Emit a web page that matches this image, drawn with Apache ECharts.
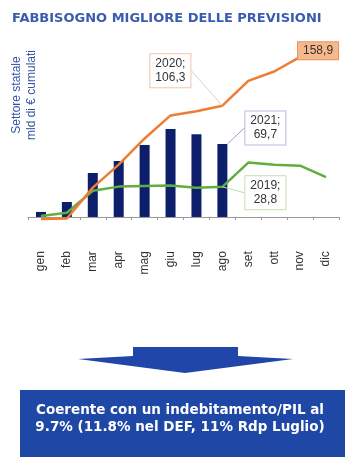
<!DOCTYPE html>
<html>
<head>
<meta charset="utf-8">
<script src="https://cdn.jsdelivr.net/npm/echarts@6/dist/echarts.min.js"></script>
<style>
html,body{margin:0;padding:0;background:#fff;}
#c{width:345px;height:457px;}
</style>
</head>
<body>
<div id="c"></div>
<script>
const months = ['gen','feb','mar','apr','mag','giu','lug','ago','set','ott','nov','dic'];
const s2021 = [4.8, 14.3, 42, 53.5, 68.8, 84, 79, 69.7, null, null, null, null];
const s2020 = [-2, -1.5, 28, 50, 75, 97, 101, 106.3, 130, 139, 153, 158.9];
const s2019 = [1, 4, 25, 29, 29.5, 30, 28, 28.8, 52, 50, 49, 38];
const labelIndex = 7;
const title = 'FABBISOGNO MIGLIORE DELLE PREVISIONI';
const yName = ['Settore statale', 'mld di € cumulati'];
const boxText = ['Coerente con un indebitamento/PIL al', '9.7% (11.8% nel DEF, 11% Rdp Luglio)'];

const FONT = '"Liberation Sans", Arial, sans-serif';
const BOLD = '"DejaVu Sans", Verdana, sans-serif';
const chart = echarts.init(document.getElementById('c'), null, {renderer: 'canvas'});

function boxLabel(border, bg) {
  return {
    show: true, position: 'inside', fontFamily: FONT, fontSize: 12, lineHeight: 14,
    color: '#333', backgroundColor: bg || '#fff', borderColor: border, borderWidth: 1,
    padding: [3, 5, 2, 5], align: 'center', opacity: 1
  };
}
const fmt = v => String(v).replace('.', ',');

const orangeData = s2020.map((v, i) => {
  if (i === labelIndex) return {value: v, label: Object.assign(boxLabel('#f0c7a8'), {formatter: '2020;\n' + fmt(v)})};
  if (i === s2020.length - 1) return {value: v, label: Object.assign(boxLabel('#e8935c', '#f5b98c'), {formatter: fmt(v), padding: [2, 5, 1, 5]})};
  return v;
});
const greenData = s2019.map((v, i) => i === labelIndex ? {value: v, label: Object.assign(boxLabel('#c4dfb6'), {formatter: '2019;\n' + fmt(v)})} : v);
const barData = s2021.map((v, i) => i === labelIndex ? {value: v, label: Object.assign(boxLabel('#b3bfdb'), {formatter: '2021;\n' + fmt(v), position: 'top', distance: 0})} : v);

const option = {
  animation: false,
  textStyle: {fontFamily: FONT},
  grid: {left: 28, right: 6, top: 33.8, bottom: 234.8, containLabel: false},
  xAxis: {
    type: 'category', data: months, boundaryGap: true,
    axisLine: {show: true, onZero: true, lineStyle: {color: '#9a9a9a', width: 1}},
    axisTick: {show: true, length: 3, lineStyle: {color: '#9a9a9a'}},
    axisLabel: {rotate: 90, margin: 29, fontSize: 12, color: '#333', fontFamily: FONT}
  },
  yAxis: {type: 'value', min: -5, max: 175, show: false, splitLine: {show: false}},
  series: [
    {
      name: '2021', type: 'bar', data: barData, barWidth: 10, z: 2,
      itemStyle: {color: '#0d1f6a'},
      labelLine: {show: true, lineStyle: {color: '#8fa3d0', width: 1}},
      labelLayout: function (p) {
        if (p.dataIndex !== labelIndex) return {};
        return {x: p.rect.x + p.rect.width / 2 + 43, y: p.rect.y - 16, align: 'center', verticalAlign: 'middle'};
      }
    },
    {
      name: '2019', type: 'line', data: greenData, z: 3,
      symbol: 'circle', symbolSize: 0.1, showSymbol: true,
      lineStyle: {color: '#5fae3e', width: 2.5}, itemStyle: {color: 'rgba(0,0,0,0)'},
      labelLine: {show: true, lineStyle: {color: '#b9dcaa', width: 1}},
      labelLayout: function (p) {
        if (p.dataIndex !== labelIndex) return {};
        return {x: p.rect.x + p.rect.width / 2 + 43, y: p.rect.y + p.rect.height / 2 + 6, align: 'center', verticalAlign: 'middle'};
      }
    },
    {
      name: '2020', type: 'line', data: orangeData, z: 4,
      symbol: 'circle', symbolSize: 0.1, showSymbol: true,
      lineStyle: {color: '#ee7d34', width: 2.5}, itemStyle: {color: 'rgba(0,0,0,0)'},
      labelLine: {show: true, lineStyle: {color: '#ecc9ae', width: 1}},
      labelLayout: function (p) {
        const cx = p.rect.x + p.rect.width / 2;
        const cy = p.rect.y + p.rect.height / 2;
        if (p.dataIndex === labelIndex) return {x: cx - 52, y: cy - 35, align: 'center', verticalAlign: 'middle'};
        if (p.dataIndex === s2020.length - 1) return {x: cx - 8, y: cy, align: 'center', verticalAlign: 'middle'};
        return {};
      }
    }
  ],
  graphic: [
    {type: 'text', left: 12, top: 12, style: {text: title, font: 'bold 13px ' + BOLD, fill: '#3a5cae', shadowColor: 'rgba(60,90,170,0.35)', shadowBlur: 2, shadowOffsetX: 1, shadowOffsetY: 1}},
    {type: 'text', x: 17, y: 95, rotation: Math.PI / 2, style: {text: yName[0], font: '12px ' + FONT, fill: '#3554a6', align: 'center', verticalAlign: 'middle'}},
    {type: 'text', x: 32, y: 95, rotation: Math.PI / 2, style: {text: yName[1], font: '12px ' + FONT, fill: '#3554a6', align: 'center', verticalAlign: 'middle'}},
    {type: 'polygon', shape: {points: [[133,347],[238,347],[238,356],[293,359],[185,373],[78,359],[133,356]]}, style: {fill: '#1f46a8'}},
    {type: 'rect', shape: {x: 20, y: 390, width: 330, height: 70}, style: {fill: '#1f47a6'}},
    {type: 'text', x: 180, y: 410, style: {text: boxText[0], font: 'bold 13.5px ' + BOLD, fill: '#fff', align: 'center', verticalAlign: 'middle'}},
    {type: 'text', x: 180, y: 427, style: {text: boxText[1], font: 'bold 13.5px ' + BOLD, fill: '#fff', align: 'center', verticalAlign: 'middle'}}
  ]
};
chart.setOption(option);
</script>
</body>
</html>
